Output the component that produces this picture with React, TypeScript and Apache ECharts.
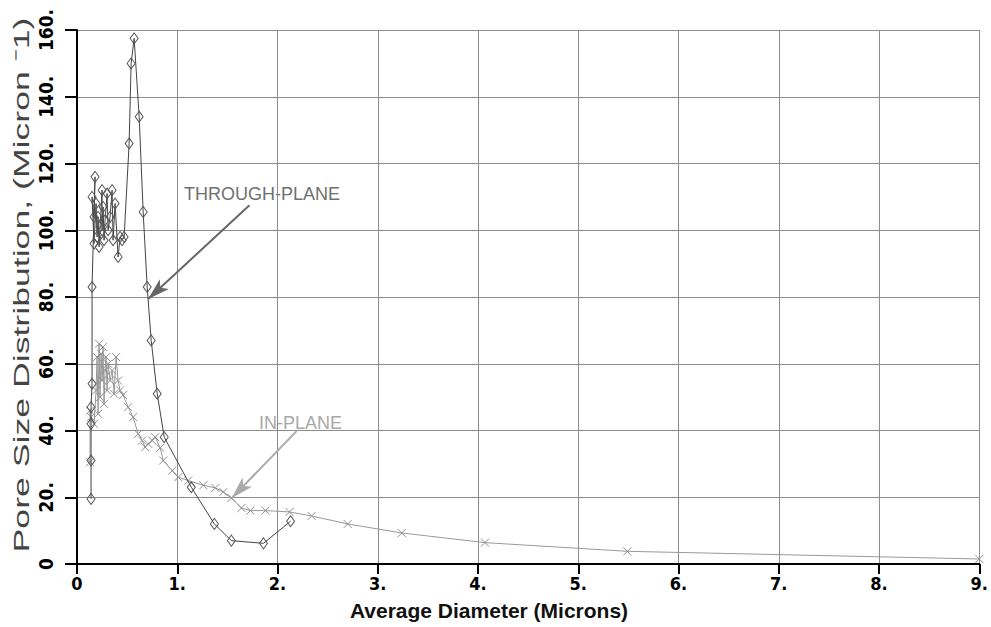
import React, { useEffect, useRef } from "react";
import * as echarts from "echarts";

const xTicks = [0, 1, 2, 3, 4, 5, 6, 7, 8, 9];
const yTicks = [0, 20, 40, 60, 80, 100, 120, 140, 160];

const throughX = [0.14, 0.14, 0.14, 0.14, 0.15, 0.15, 0.18, 0.17, 0.15, 0.17, 0.19, 0.2, 0.21, 0.22, 0.23, 0.25, 0.25, 0.26, 0.27, 0.28, 0.3, 0.31, 0.33, 0.35, 0.36, 0.38, 0.41, 0.43, 0.45, 0.47, 0.52, 0.54, 0.57, 0.62, 0.66, 0.7, 0.74, 0.8, 0.87, 1.14, 1.37, 1.54, 1.86, 2.13];
const throughY = [19.5, 31, 42, 47, 54, 83, 116, 104, 110, 96, 108, 98, 104, 95, 101, 112, 100, 107, 97, 103, 111, 100, 104, 112, 97, 108, 92, 98, 97, 98, 126, 150, 157.5, 134, 105.5, 83, 67, 51, 38, 23, 12, 7, 6.2, 12.8];

const inX = [0.13, 0.13, 0.14, 0.17, 0.19, 0.2, 0.21, 0.22, 0.23, 0.24, 0.25, 0.26, 0.27, 0.28, 0.29, 0.3, 0.31, 0.33, 0.35, 0.37, 0.39, 0.41, 0.43, 0.46, 0.51, 0.56, 0.61, 0.65, 0.68, 0.71, 0.75, 0.78, 0.83, 0.86, 0.95, 1.01, 1.11, 1.26, 1.38, 1.46, 1.54, 1.64, 1.73, 1.88, 2.12, 2.34, 2.7, 3.24, 4.07, 5.49, 9.0];
const inY = [30.5, 46, 44, 42, 52, 62, 45, 66, 50, 63, 55, 65, 48, 58, 62, 52, 60, 55, 58, 51, 62, 55, 52, 50.6, 47, 44, 39, 37, 35, 36, 37, 38, 34.8, 31, 28, 26, 25, 23.6, 22.8, 21.6, 19.8, 16.8, 16, 16, 15.6, 14.4, 12, 9.3, 6.4, 3.8, 1.5];

const throughArrow = [[1.72, 107.5], [0.71, 79.4]];
const inArrow = [[2.19, 39.8], [1.545, 19.8]];

const narrow = '"Liberation Sans Narrow", "DejaVu Sans Condensed", "Liberation Sans", Arial, sans-serif';
const fmt = (v: number) => (v === 0 ? "0" : v + ".");

export default function App() {
  const ref = useRef<HTMLDivElement>(null);
  useEffect(() => {
    if (!ref.current) return;
    const chart = echarts.init(ref.current, undefined, { renderer: "svg" });
    const through = throughX.map((x, i) => [x, throughY[i]]);
    const inPlane = inX.map((x, i) => [x, inY[i]]);
    chart.setOption({
      animation: false,
      backgroundColor: "#fff",
      grid: { left: 77, right: 8, top: 30, bottom: 63 },
      xAxis: {
        type: "value",
        min: xTicks[0],
        max: xTicks[xTicks.length - 1],
        interval: 1,
        axisLine: { show: true, onZero: false, lineStyle: { color: "#000", width: 2 } },
        axisTick: { show: true, length: 10, lineStyle: { color: "#000", width: 2 } },
        axisLabel: { formatter: fmt, color: "#000", fontWeight: "bold", fontSize: 18, lineHeight: 18, fontFamily: narrow, margin: 10 },
        splitLine: { show: true, lineStyle: { color: "#8c8c8c", width: 1 } },
      },
      yAxis: {
        type: "value",
        min: yTicks[0],
        max: yTicks[yTicks.length - 1],
        interval: 20,
        axisLine: { show: true, onZero: false, lineStyle: { color: "#000", width: 2 } },
        axisTick: { show: true, length: 12, lineStyle: { color: "#000", width: 2 } },
        axisLabel: { formatter: fmt, rotate: 90, color: "#000", fontWeight: "bold", fontSize: 19, fontFamily: narrow, margin: 22 },
        splitLine: { show: true, lineStyle: { color: "#8c8c8c", width: 1 } },
      },
      series: [
        {
          type: "line",
          name: "IN-PLANE",
          data: inPlane,
          symbol: "path://M0,0L10,10M10,0L0,10",
          symbolSize: 8,
          itemStyle: { color: "rgba(0,0,0,0)", borderColor: "#8f8f8f", borderWidth: 1 },
          lineStyle: { color: "#999", width: 1 },
          z: 2,
          markLine: {
            silent: true,
            symbol: ["none", "arrow"],
            symbolSize: [10, 22],
            label: { show: false },
            lineStyle: { color: "#aaaaaa", width: 2, type: "solid" },
            data: [[{ coord: inArrow[0] }, { coord: inArrow[1] }]],
          },
        },
        {
          type: "line",
          name: "THROUGH-PLANE",
          data: through,
          symbol: "diamond",
          symbolSize: [8, 11],
          itemStyle: { color: "rgba(255,255,255,0)", borderColor: "#555", borderWidth: 1 },
          lineStyle: { color: "#444", width: 1 },
          z: 3,
          markLine: {
            silent: true,
            symbol: ["none", "arrow"],
            symbolSize: [10, 22],
            label: { show: false },
            lineStyle: { color: "#666", width: 2, type: "solid" },
            data: [[{ coord: throughArrow[0] }, { coord: throughArrow[1] }]],
          },
        },
      ],
      graphic: [
        {
          type: "text",
          x: 184,
          y: 185,
          style: { text: "THROUGH-PLANE", font: "18px Arial, 'Liberation Sans', sans-serif", fill: "#707070" },
        },
        {
          type: "text",
          x: 259,
          y: 414,
          style: { text: "IN-PLANE", font: "18px Arial, 'Liberation Sans', sans-serif", fill: "#a8a8a8" },
        },
        {
          type: "text",
          x: 21,
          y: 285,
          rotation: Math.PI / 2,
          scaleX: 1.62,
          style: {
            text: "Pore Size Distribution, (Micron \u207b1)",
            font: "22px Arial, 'Liberation Sans', sans-serif",
            fill: "#444",
            textAlign: "center",
            textVerticalAlign: "middle",
          },
        },
        {
          type: "text",
          x: 489,
          y: 610,
          style: {
            text: "Average Diameter (Microns)",
            font: "bold 21px Arial, 'Liberation Sans', sans-serif",
            fill: "#111",
            textAlign: "center",
            textVerticalAlign: "middle",
          },
        },
      ],
    });
    return () => chart.dispose();
  }, []);
  return <div ref={ref} style={{ width: 991, height: 627, position: "absolute", left: 0, top: 0 }} />;
}
